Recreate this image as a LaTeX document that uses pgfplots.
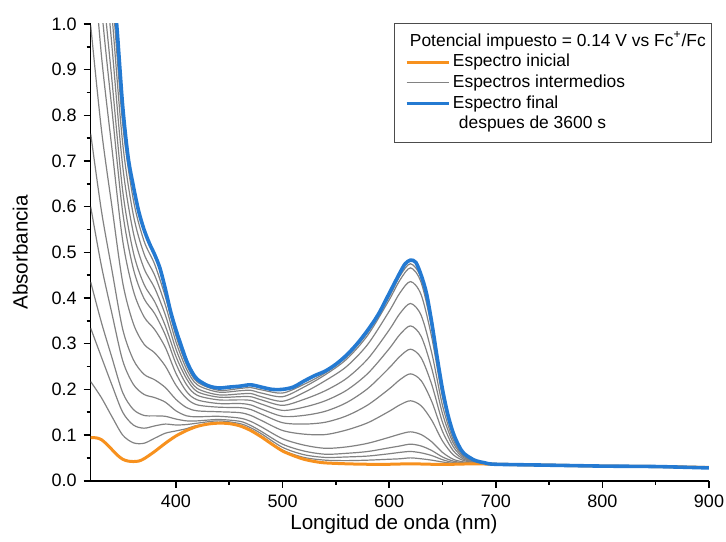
\documentclass[border=0pt]{standalone}
\usepackage{fontspec}
\setmainfont{Liberation Sans}
\usepackage{pgfplots}
\usepackage{pgfplotstable}
\pgfplotsset{compat=1.18}
\definecolor{cOrange}{RGB}{247,145,30}
\definecolor{cBlue}{RGB}{36,122,210}
\definecolor{cGray}{RGB}{130,130,130}

\pgfplotstableread{
x   g1    g2    g3    g4    g5    g6    g7    g8    g9    g10   g11   g12
320 0.217 0.334 0.435 0.600 0.760 0.997 1.214 1.358 1.467 1.593 1.710 1.810
330 0.182 0.271 0.347 0.471 0.592 0.770 0.933 1.042 1.124 1.219 1.307 1.382
340 0.140 0.209 0.269 0.365 0.460 0.599 0.726 0.811 0.875 0.950 1.019 1.077
350 0.100 0.150 0.193 0.263 0.332 0.434 0.526 0.588 0.635 0.689 0.739 0.781
360 0.083 0.122 0.156 0.211 0.265 0.344 0.416 0.464 0.500 0.543 0.582 0.615
370 0.082 0.115 0.143 0.189 0.233 0.299 0.359 0.399 0.430 0.465 0.497 0.525
380 0.093 0.120 0.142 0.182 0.221 0.280 0.331 0.366 0.392 0.422 0.450 0.474
390 0.104 0.124 0.141 0.172 0.204 0.251 0.292 0.319 0.339 0.363 0.385 0.403
400 0.109 0.122 0.135 0.153 0.178 0.209 0.235 0.256 0.272 0.288 0.304 0.317
410 0.114 0.123 0.131 0.142 0.160 0.180 0.195 0.210 0.223 0.233 0.244 0.253
420 0.121 0.126 0.131 0.140 0.153 0.166 0.177 0.187 0.195 0.202 0.210 0.216
440 0.127 0.131 0.134 0.141 0.151 0.161 0.169 0.177 0.183 0.188 0.194 0.198
460 0.121 0.125 0.130 0.137 0.149 0.160 0.169 0.177 0.184 0.190 0.197 0.202
470 0.112 0.116 0.121 0.130 0.143 0.156 0.166 0.176 0.184 0.191 0.198 0.204
480 0.098 0.103 0.108 0.118 0.132 0.146 0.157 0.168 0.177 0.184 0.192 0.199
500 0.067 0.073 0.080 0.092 0.110 0.127 0.141 0.154 0.165 0.174 0.184 0.192
520 0.051 0.057 0.065 0.078 0.102 0.124 0.143 0.161 0.178 0.193 0.205 0.211
540 0.045 0.051 0.058 0.071 0.101 0.128 0.152 0.175 0.197 0.219 0.232 0.236
560 0.044 0.052 0.060 0.074 0.111 0.142 0.171 0.198 0.224 0.250 0.266 0.271
580 0.045 0.054 0.064 0.082 0.127 0.166 0.202 0.235 0.267 0.299 0.319 0.325
600 0.047 0.059 0.072 0.095 0.152 0.201 0.247 0.289 0.330 0.371 0.396 0.403
610 0.048 0.062 0.076 0.102 0.166 0.221 0.272 0.320 0.366 0.411 0.439 0.448
620 0.050 0.064 0.080 0.107 0.175 0.234 0.288 0.339 0.388 0.436 0.466 0.475
630 0.048 0.061 0.076 0.101 0.164 0.219 0.269 0.316 0.362 0.407 0.434 0.443
640 0.045 0.055 0.066 0.085 0.132 0.173 0.210 0.245 0.279 0.313 0.333 0.339
650 0.041 0.046 0.052 0.062 0.087 0.108 0.128 0.147 0.165 0.183 0.194 0.197
660 0.038 0.040 0.043 0.047 0.057 0.066 0.075 0.083 0.090 0.098 0.102 0.104
670 0.038 0.038 0.039 0.041 0.044 0.047 0.050 0.053 0.055 0.058 0.059 0.060
680 0.037 0.037 0.038 0.038 0.040 0.041 0.042 0.042 0.043 0.044 0.045 0.045
700 0.036 0.036 0.036 0.036 0.036 0.036 0.036 0.036 0.036 0.036 0.036 0.036
800 0.032 0.032 0.032 0.032 0.032 0.032 0.032 0.032 0.032 0.032 0.032 0.032
900 0.028 0.028 0.028 0.028 0.028 0.028 0.028 0.028 0.028 0.028 0.028 0.028
}\grays

\pgfplotstableread{
x   y
320 0.094
325 0.094
330 0.090
335 0.080
340 0.068
345 0.056
350 0.047
355 0.043
360 0.042
365 0.043
370 0.048
380 0.064
390 0.082
400 0.098
410 0.110
420 0.119
430 0.124
440 0.126
450 0.125
460 0.120
470 0.110
480 0.096
490 0.080
500 0.065
510 0.055
520 0.047
530 0.042
540 0.039
560 0.037
580 0.036
600 0.036
620 0.037
640 0.036
660 0.036
680 0.037
700 0.036
750 0.034
800 0.032
850 0.031
900 0.029
}\initial

\pgfplotstableread{
x   y
320 1.900
330 1.450
340 1.130
345 0.980
350 0.820
355 0.710
360 0.645
365 0.590
370 0.550
375 0.520
380 0.495
385 0.465
390 0.420
395 0.370
400 0.330
405 0.295
410 0.262
415 0.238
420 0.222
430 0.208
440 0.203
450 0.205
460 0.207
470 0.210
480 0.205
490 0.200
500 0.200
510 0.205
520 0.218
530 0.230
540 0.240
550 0.255
560 0.275
570 0.300
580 0.330
590 0.365
600 0.410
610 0.455
615 0.475
620 0.483
625 0.478
630 0.450
635 0.410
640 0.345
645 0.270
650 0.200
655 0.145
660 0.105
665 0.078
670 0.060
680 0.045
690 0.039
700 0.036
750 0.034
800 0.032
850 0.031
900 0.028
}\final

\begin{document}
\begin{tikzpicture}
\path[use as bounding box] (-45.35pt,-30.15pt) rectangle (317.65pt,240.35pt);
\begin{axis}[
  at={(0,0)}, anchor=south west,
  scale only axis, width=309.15pt, height=228.35pt,
  xmin=320, xmax=900, ymin=0, ymax=1,
  axis lines*=left,
  axis line style={-, line width=0.8pt, black},
  tick align=outside,
  xtick={400,500,600,700,800,900},
  ytick={0,0.1,0.2,0.3,0.4,0.5,0.6,0.7,0.8,0.9,1.0},
  minor x tick num=1, minor y tick num=1,
  major tick length=3.5pt, minor tick length=2pt,
  every tick/.style={line width=0.8pt, black},
  yticklabel style={/pgf/number format/.cd, fixed, fixed zerofill, precision=1},
  xticklabel style={/pgf/number format/.cd, fixed, precision=0},
  /pgf/number format/assume math mode=true,
  tick label style={font=\fontsize{9}{10}\selectfont},
  xlabel={Longitud de onda (nm)}, ylabel={Absorbancia},
  label style={font=\fontsize{10.3}{12}\selectfont},
  xlabel style={at={(axis description cs:0.4905,-0.0948)}, anchor=center},
  ylabel style={at={(axis description cs:-0.114,0.5)}, anchor=center},
  legend cell align=left,
  legend image code/.code={\draw[#1] (0pt,0pt) -- (21.3pt,0pt);},
  legend style={
    at={(axis description cs:1.005,1.002)}, anchor=north east,
    draw=black!70, line width=0.5pt,
    inner xsep=4.9pt, inner ysep=3.9pt,
    font=\fontsize{8.7}{10}\selectfont,
    row sep=0pt,
    nodes={inner xsep=1pt, inner ysep=1pt, text height=6.5pt, text depth=1.8pt},
  },
]
\addlegendimage{empty legend}
\addlegendentry{\hspace*{-21.5pt}Potencial impuesto = 0.14 V vs Fc\textsuperscript{+}/Fc\hspace*{-3pt}}
\addlegendimage{cOrange, line width=1.5pt}
\addlegendentry{Espectro inicial}
\addlegendimage{cGray, line width=0.6pt}
\addlegendentry{Espectros intermedios}
\addlegendimage{cBlue, line width=1.8pt}
\addlegendentry{Espectro final}
\addlegendimage{empty legend}
\addlegendentry{\hspace*{3pt}despues de 3600 s}

\foreach \c in {g1,g2,g3,g4,g5,g6,g7,g8,g9,g10,g11,g12}{
  \addplot[cGray, line width=0.6pt, smooth, forget plot] table[x=x, y=\c] {\grays};
}
\addplot[cOrange, line width=1.5pt, smooth, forget plot] table[x=x, y=y] {\initial};
\addplot[cBlue, line width=1.8pt, smooth, forget plot] table[x=x, y=y] {\final};
\end{axis}
\end{tikzpicture}
\end{document}
